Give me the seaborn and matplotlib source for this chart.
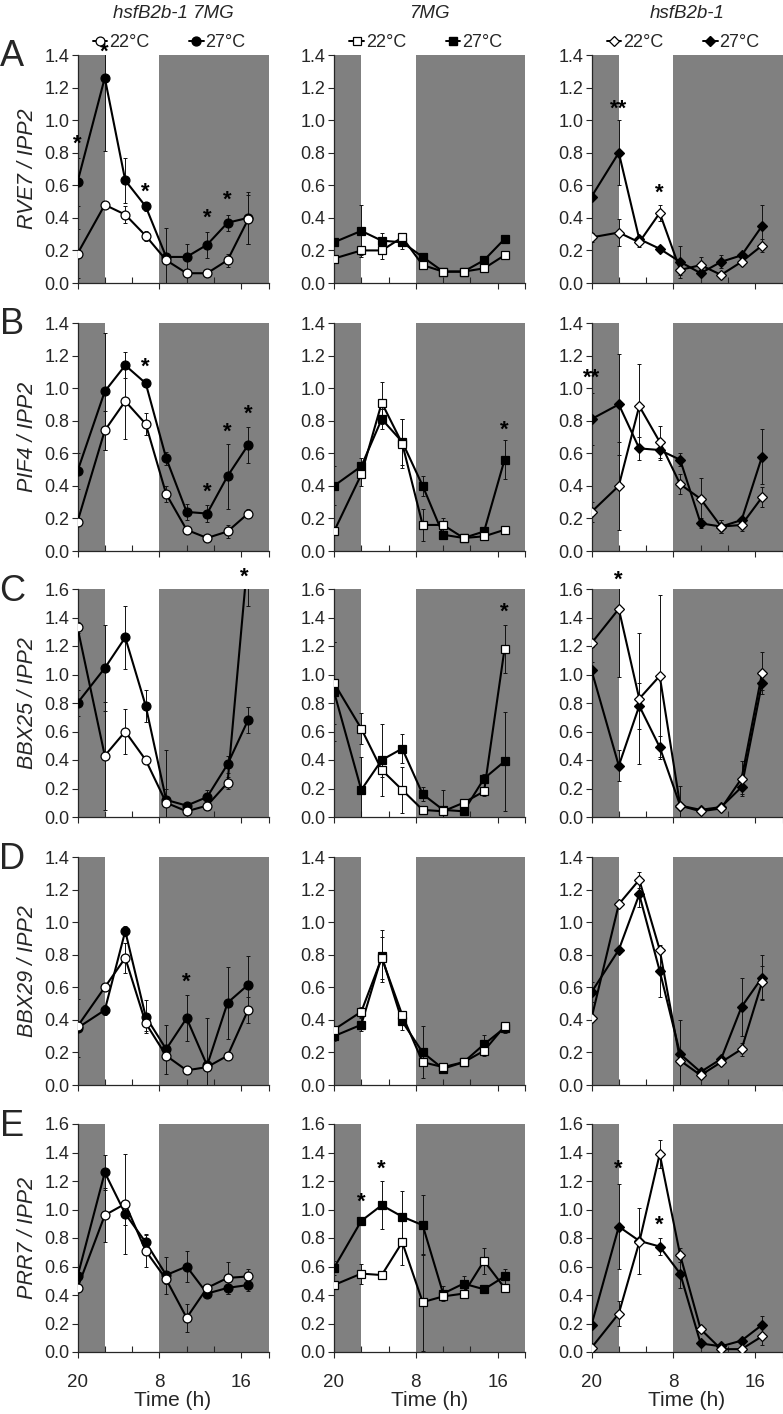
import numpy as np
import pandas as pd
import matplotlib
matplotlib.use("Agg")
import matplotlib.pyplot as plt
from matplotlib.lines import Line2D
import seaborn as sns

# ---------------- data ----------------
hours = [0, 4, 7, 10, 13, 16, 19, 22, 25]          # hours after first sample (20 h)
genotypes = ["hsfB2b-1 7MG", "7MG", "hsfB2b-1"]
genes = ["RVE7", "PIF4", "BBX25", "BBX29", "PRR7"]
letters = ["A", "B", "C", "D", "E"]
ymax = [1.4, 1.4, 1.6, 1.4, 1.6]
temps = ["22°C", "27°C"]
xmajor_pos = [0, 12, 24, 28]
xmajor_labels = ["20", "8", "16", ""]
xminor_pos = [4, 8, 16, 20]

# RVE7
rve7_dm22 = [0.18, 0.48, 0.42, 0.29, 0.14, 0.06, 0.06, 0.14, 0.39]
rve7_dm22_err = [0.15, 0.02, 0.05, 0.03, 0.02, 0.01, 0.01, 0.04, 0.15]
rve7_dm27 = [0.62, 1.26, 0.63, 0.47, 0.16, 0.16, 0.235, 0.37, 0.40]
rve7_dm27_err = [0.15, 0.45, 0.14, 0.03, 0.18, 0.08, 0.08, 0.05, 0.16]
rve7_7mg22 = [0.15, 0.20, 0.20, 0.28, 0.11, 0.07, 0.07, 0.09, 0.17]
rve7_7mg22_err = [0.02, 0.03, 0.05, 0.02, 0.02, 0.01, 0.01, 0.02, 0.02]
rve7_7mg27 = [0.25, 0.32, 0.26, 0.25, 0.16, 0.07, 0.07, 0.14, 0.27]
rve7_7mg27_err = [0.02, 0.16, 0.05, 0.04, 0.02, 0.02, 0.02, 0.02, 0.02]
rve7_hsf22 = [0.28, 0.31, 0.25, 0.43, 0.08, 0.11, 0.05, 0.13, 0.23]
rve7_hsf22_err = [0.03, 0.08, 0.03, 0.05, 0.03, 0.05, 0.01, 0.02, 0.04]
rve7_hsf27 = [0.53, 0.80, 0.27, 0.21, 0.13, 0.06, 0.13, 0.17, 0.35]
rve7_hsf27_err = [0.02, 0.20, 0.02, 0.02, 0.10, 0.02, 0.04, 0.02, 0.13]

# PIF4
pif4_dm22 = [0.18, 0.74, 0.92, 0.78, 0.35, 0.13, 0.08, 0.12, 0.23]
pif4_dm22_err = [0.02, 0.12, 0.23, 0.07, 0.05, 0.02, 0.01, 0.04, 0.03]
pif4_dm27 = [0.49, 0.98, 1.14, 1.03, 0.57, 0.24, 0.23, 0.46, 0.65]
pif4_dm27_err = [0.11, 0.36, 0.08, 0.02, 0.04, 0.05, 0.05, 0.20, 0.11]
pif4_7mg22 = [0.12, 0.47, 0.91, 0.66, 0.16, 0.16, 0.08, 0.09, 0.13]
pif4_7mg22_err = [0.02, 0.07, 0.13, 0.15, 0.10, 0.04, 0.01, 0.02, 0.02]
pif4_7mg27 = [0.40, 0.52, 0.81, 0.67, 0.40, 0.10, 0.08, 0.12, 0.56]
pif4_7mg27_err = [0.12, 0.05, 0.06, 0.14, 0.06, 0.02, 0.02, 0.02, 0.12]
pif4_hsf22 = [0.24, 0.40, 0.89, 0.67, 0.41, 0.32, 0.15, 0.16, 0.33]
pif4_hsf22_err = [0.06, 0.27, 0.26, 0.10, 0.06, 0.13, 0.04, 0.04, 0.06]
pif4_hsf27 = [0.81, 0.90, 0.63, 0.62, 0.56, 0.17, 0.15, 0.19, 0.58]
pif4_hsf27_err = [0.16, 0.31, 0.07, 0.06, 0.04, 0.03, 0.04, 0.02, 0.17]

# BBX25
bbx25_dm22 = [1.33, 0.43, 0.60, 0.40, 0.10, 0.04, 0.08, 0.24, 1.84]
bbx25_dm22_err = [0.04, 0.38, 0.16, 0.02, 0.10, 0.01, 0.02, 0.04, 0.36]
bbx25_dm27 = [0.80, 1.045, 1.26, 0.78, 0.12, 0.08, 0.14, 0.37, 0.68]
bbx25_dm27_err = [0.09, 0.30, 0.22, 0.11, 0.35, 0.02, 0.05, 0.06, 0.09]
bbx25_7mg22 = [0.94, 0.62, 0.33, 0.19, 0.05, 0.04, 0.10, 0.18, 1.18]
bbx25_7mg22_err = [0.29, 0.11, 0.05, 0.16, 0.02, 0.02, 0.02, 0.03, 0.17]
bbx25_7mg27 = [0.88, 0.19, 0.40, 0.48, 0.16, 0.05, 0.04, 0.27, 0.39]
bbx25_7mg27_err = [0.35, 0.23, 0.25, 0.10, 0.05, 0.14, 0.02, 0.03, 0.35]
bbx25_hsf22 = [1.22, 1.46, 0.83, 0.99, 0.08, 0.04, 0.06, 0.27, 1.01]
bbx25_hsf22_err = [0.03, 0.48, 0.46, 0.57, 0.02, 0.01, 0.01, 0.12, 0.15]
bbx25_hsf27 = [1.03, 0.36, 0.78, 0.49, 0.08, 0.05, 0.07, 0.21, 0.94]
bbx25_hsf27_err = [0.06, 0.11, 0.16, 0.08, 0.14, 0.01, 0.01, 0.05, 0.05]

# BBX29
bbx29_dm22 = [0.36, 0.60, 0.78, 0.38, 0.18, 0.09, 0.11, 0.18, 0.46]
bbx29_dm22_err = [0.02, 0.02, 0.09, 0.05, 0.02, 0.01, 0.02, 0.02, 0.08]
bbx29_dm27 = [0.35, 0.46, 0.945, 0.42, 0.22, 0.41, 0.12, 0.505, 0.615]
bbx29_dm27_err = [0.18, 0.03, 0.03, 0.10, 0.15, 0.14, 0.29, 0.22, 0.18]
bbx29_7mg22 = [0.34, 0.45, 0.78, 0.43, 0.14, 0.11, 0.14, 0.21, 0.36]
bbx29_7mg22_err = [0.02, 0.03, 0.13, 0.02, 0.02, 0.01, 0.01, 0.03, 0.02]
bbx29_7mg27 = [0.30, 0.37, 0.79, 0.39, 0.20, 0.10, 0.14, 0.25, 0.35]
bbx29_7mg27_err = [0.03, 0.04, 0.16, 0.05, 0.16, 0.02, 0.02, 0.06, 0.03]
bbx29_hsf22 = [0.41, 1.11, 1.26, 0.83, 0.15, 0.06, 0.14, 0.22, 0.63]
bbx29_hsf22_err = [0.02, 0.02, 0.05, 0.02, 0.02, 0.01, 0.02, 0.04, 0.10]
bbx29_hsf27 = [0.57, 0.83, 1.17, 0.70, 0.19, 0.08, 0.16, 0.48, 0.66]
bbx29_hsf27_err = [0.06, 0.02, 0.08, 0.16, 0.21, 0.02, 0.02, 0.18, 0.14]

# PRR7
prr7_dm22 = [0.45, 0.96, 1.04, 0.71, 0.51, 0.24, 0.45, 0.52, 0.53]
prr7_dm22_err = [0.03, 0.19, 0.35, 0.11, 0.03, 0.10, 0.02, 0.11, 0.05]
prr7_dm27 = [0.53, 1.26, 0.97, 0.77, 0.54, 0.60, 0.41, 0.45, 0.47]
prr7_dm27_err = [0.03, 0.12, 0.08, 0.06, 0.13, 0.11, 0.02, 0.04, 0.04]
prr7_7mg22 = [0.47, 0.55, 0.54, 0.77, 0.35, 0.39, 0.41, 0.64, 0.45]
prr7_7mg22_err = [0.02, 0.07, 0.02, 0.16, 0.34, 0.02, 0.02, 0.09, 0.02]
prr7_7mg27 = [0.59, 0.92, 1.03, 0.95, 0.89, 0.41, 0.48, 0.44, 0.53]
prr7_7mg27_err = [0.05, 0.02, 0.17, 0.18, 0.21, 0.05, 0.05, 0.02, 0.05]
prr7_hsf22 = [0.03, 0.27, 0.77, 1.39, 0.68, 0.16, 0.02, 0.02, 0.11]
prr7_hsf22_err = [0.01, 0.09, 0.02, 0.10, 0.05, 0.02, 0.01, 0.01, 0.06]
prr7_hsf27 = [0.19, 0.88, 0.78, 0.74, 0.55, 0.06, 0.04, 0.08, 0.19]
prr7_hsf27_err = [0.02, 0.30, 0.23, 0.06, 0.10, 0.02, 0.01, 0.02, 0.06]

# significance marks: (row, col, hour, y, text)
stars = [
    (0, 0, 0, 0.85, "*"), (0, 0, 4, 1.42, "*"), (0, 0, 10, 0.56, "*"),
    (0, 0, 19, 0.40, "*"), (0, 0, 22, 0.51, "*"),
    (0, 2, 4, 1.07, "**"), (0, 2, 10, 0.55, "*"),
    (1, 0, 10, 1.13, "*"), (1, 0, 19, 0.36, "*"), (1, 0, 22, 0.73, "*"), (1, 0, 25, 0.84, "*"),
    (1, 1, 25, 0.74, "*"), (1, 2, 0, 1.06, "**"),
    (2, 0, 24.5, 1.68, "*"), (2, 1, 25, 1.44, "*"), (2, 2, 4, 1.66, "*"),
    (3, 0, 16, 0.63, "*"),
    (4, 1, 4, 1.05, "*"), (4, 1, 7, 1.28, "*"), (4, 2, 4, 1.28, "*"), (4, 2, 10, 0.89, "*"),
]

series = {
    ("RVE7", 0): (rve7_dm22, rve7_dm22_err, rve7_dm27, rve7_dm27_err),
    ("RVE7", 1): (rve7_7mg22, rve7_7mg22_err, rve7_7mg27, rve7_7mg27_err),
    ("RVE7", 2): (rve7_hsf22, rve7_hsf22_err, rve7_hsf27, rve7_hsf27_err),
    ("PIF4", 0): (pif4_dm22, pif4_dm22_err, pif4_dm27, pif4_dm27_err),
    ("PIF4", 1): (pif4_7mg22, pif4_7mg22_err, pif4_7mg27, pif4_7mg27_err),
    ("PIF4", 2): (pif4_hsf22, pif4_hsf22_err, pif4_hsf27, pif4_hsf27_err),
    ("BBX25", 0): (bbx25_dm22, bbx25_dm22_err, bbx25_dm27, bbx25_dm27_err),
    ("BBX25", 1): (bbx25_7mg22, bbx25_7mg22_err, bbx25_7mg27, bbx25_7mg27_err),
    ("BBX25", 2): (bbx25_hsf22, bbx25_hsf22_err, bbx25_hsf27, bbx25_hsf27_err),
    ("BBX29", 0): (bbx29_dm22, bbx29_dm22_err, bbx29_dm27, bbx29_dm27_err),
    ("BBX29", 1): (bbx29_7mg22, bbx29_7mg22_err, bbx29_7mg27, bbx29_7mg27_err),
    ("BBX29", 2): (bbx29_hsf22, bbx29_hsf22_err, bbx29_hsf27, bbx29_hsf27_err),
    ("PRR7", 0): (prr7_dm22, prr7_dm22_err, prr7_dm27, prr7_dm27_err),
    ("PRR7", 1): (prr7_7mg22, prr7_7mg22_err, prr7_7mg27, prr7_7mg27_err),
    ("PRR7", 2): (prr7_hsf22, prr7_hsf22_err, prr7_hsf27, prr7_hsf27_err),
}

# ---------------- style ----------------
sns.set_style("ticks")
plt.rcParams["font.family"] = ["Liberation Sans", "DejaVu Sans"]
plt.rcParams["axes.linewidth"] = 0.9

W, H = 783, 1414
fig = plt.figure(figsize=(W / 100, H / 100), dpi=100)

col_left = [77.5, 334, 591.5]
col_width = 191
row_top = [55, 323, 589, 857, 1124]
row_h = 228
markers = ["o", "s", "D"]
msize = [6.4, 6.0, 5.3]
shade = "#808080"

for r, gene in enumerate(genes):
    for c in range(3):
        ax = fig.add_axes([col_left[c] / W, 1 - (row_top[r] + row_h) / H,
                           col_width / W, row_h / H])
        ax.axvspan(0, 4, color=shade, lw=0, zorder=0)
        ax.axvspan(12, 28, color=shade, lw=0, zorder=0)
        v22, e22, v27, e27 = series[(gene, c)]
        for vals, errs, fill in ((v27, e27, "black"), (v22, e22, "white")):
            ax.errorbar(hours, vals, yerr=errs, fmt="none", ecolor="#111111",
                        elinewidth=0.7, capsize=1.6, capthick=0.7, zorder=2)
            sns.lineplot(x=hours, y=vals, ax=ax, color="black", lw=1.5,
                         marker=markers[c], markersize=msize[c],
                         markerfacecolor=fill, markeredgecolor="black",
                         markeredgewidth=0.9, estimator=None, sort=False,
                         zorder=3)
        ax.set_xlim(0, 28)
        ax.set_ylim(0, ymax[r])
        yt = np.round(np.arange(0, ymax[r] + 0.001, 0.2), 1)
        ax.set_yticks(yt)
        ax.set_yticklabels([f"{t:.1f}" for t in yt], fontsize=13)
        ax.set_xticks(xmajor_pos)
        ax.set_xticks(xminor_pos, minor=True)
        ax.tick_params(axis="x", which="minor", direction="in", length=4, width=0.8)
        ax.tick_params(axis="x", which="major", direction="out", length=4, width=0.8)
        ax.tick_params(axis="y", length=4, width=0.8, pad=2)
        if r == len(genes) - 1:
            ax.set_xticklabels(xmajor_labels, fontsize=13.5)
            ax.set_xlabel("Time (h)", fontsize=15, labelpad=0)
            ax.tick_params(axis="x", which="major", pad=12)
        else:
            ax.set_xticklabels([])
            ax.set_xlabel("")
        ax.set_ylabel("")
        for s in ("top", "right"):
            ax.spines[s].set_visible(False)
        if c == 0:
            ax.set_ylabel(f"{gene} / IPP2", fontsize=15.5, style="italic", labelpad=4)
        for (sr, sc, sx, sy, st) in stars:
            if sr == r and sc == c:
                ax.text(sx, sy, st, ha="center", va="center", fontsize=16,
                        fontweight="bold", color="black", clip_on=False, zorder=5)
        if r == 0:
            handles = [
                Line2D([], [], color="black", lw=1.4, marker=markers[c],
                       markersize=msize[c], markerfacecolor="white",
                       markeredgecolor="black", markeredgewidth=0.9),
                Line2D([], [], color="black", lw=1.4, marker=markers[c],
                       markersize=msize[c], markerfacecolor="black",
                       markeredgecolor="black"),
            ]
            ax.legend(handles, temps, loc="lower center", bbox_to_anchor=(0.48, 1.0),
                      ncol=2, frameon=False, fontsize=13, handlelength=0.8,
                      handletextpad=0.1, columnspacing=2.2, borderaxespad=0.1,
                      borderpad=0.1)
            fig.text((col_left[c] + col_width / 2) / W, 1 - 13 / H, genotypes[c],
                     ha="center", va="center", fontsize=13.5, style="italic")
    fig.text(12 / W, 1 - (row_top[r] + 2) / H, letters[r], ha="center", va="center",
             fontsize=26)

fig.savefig("out.png", dpi=100)
